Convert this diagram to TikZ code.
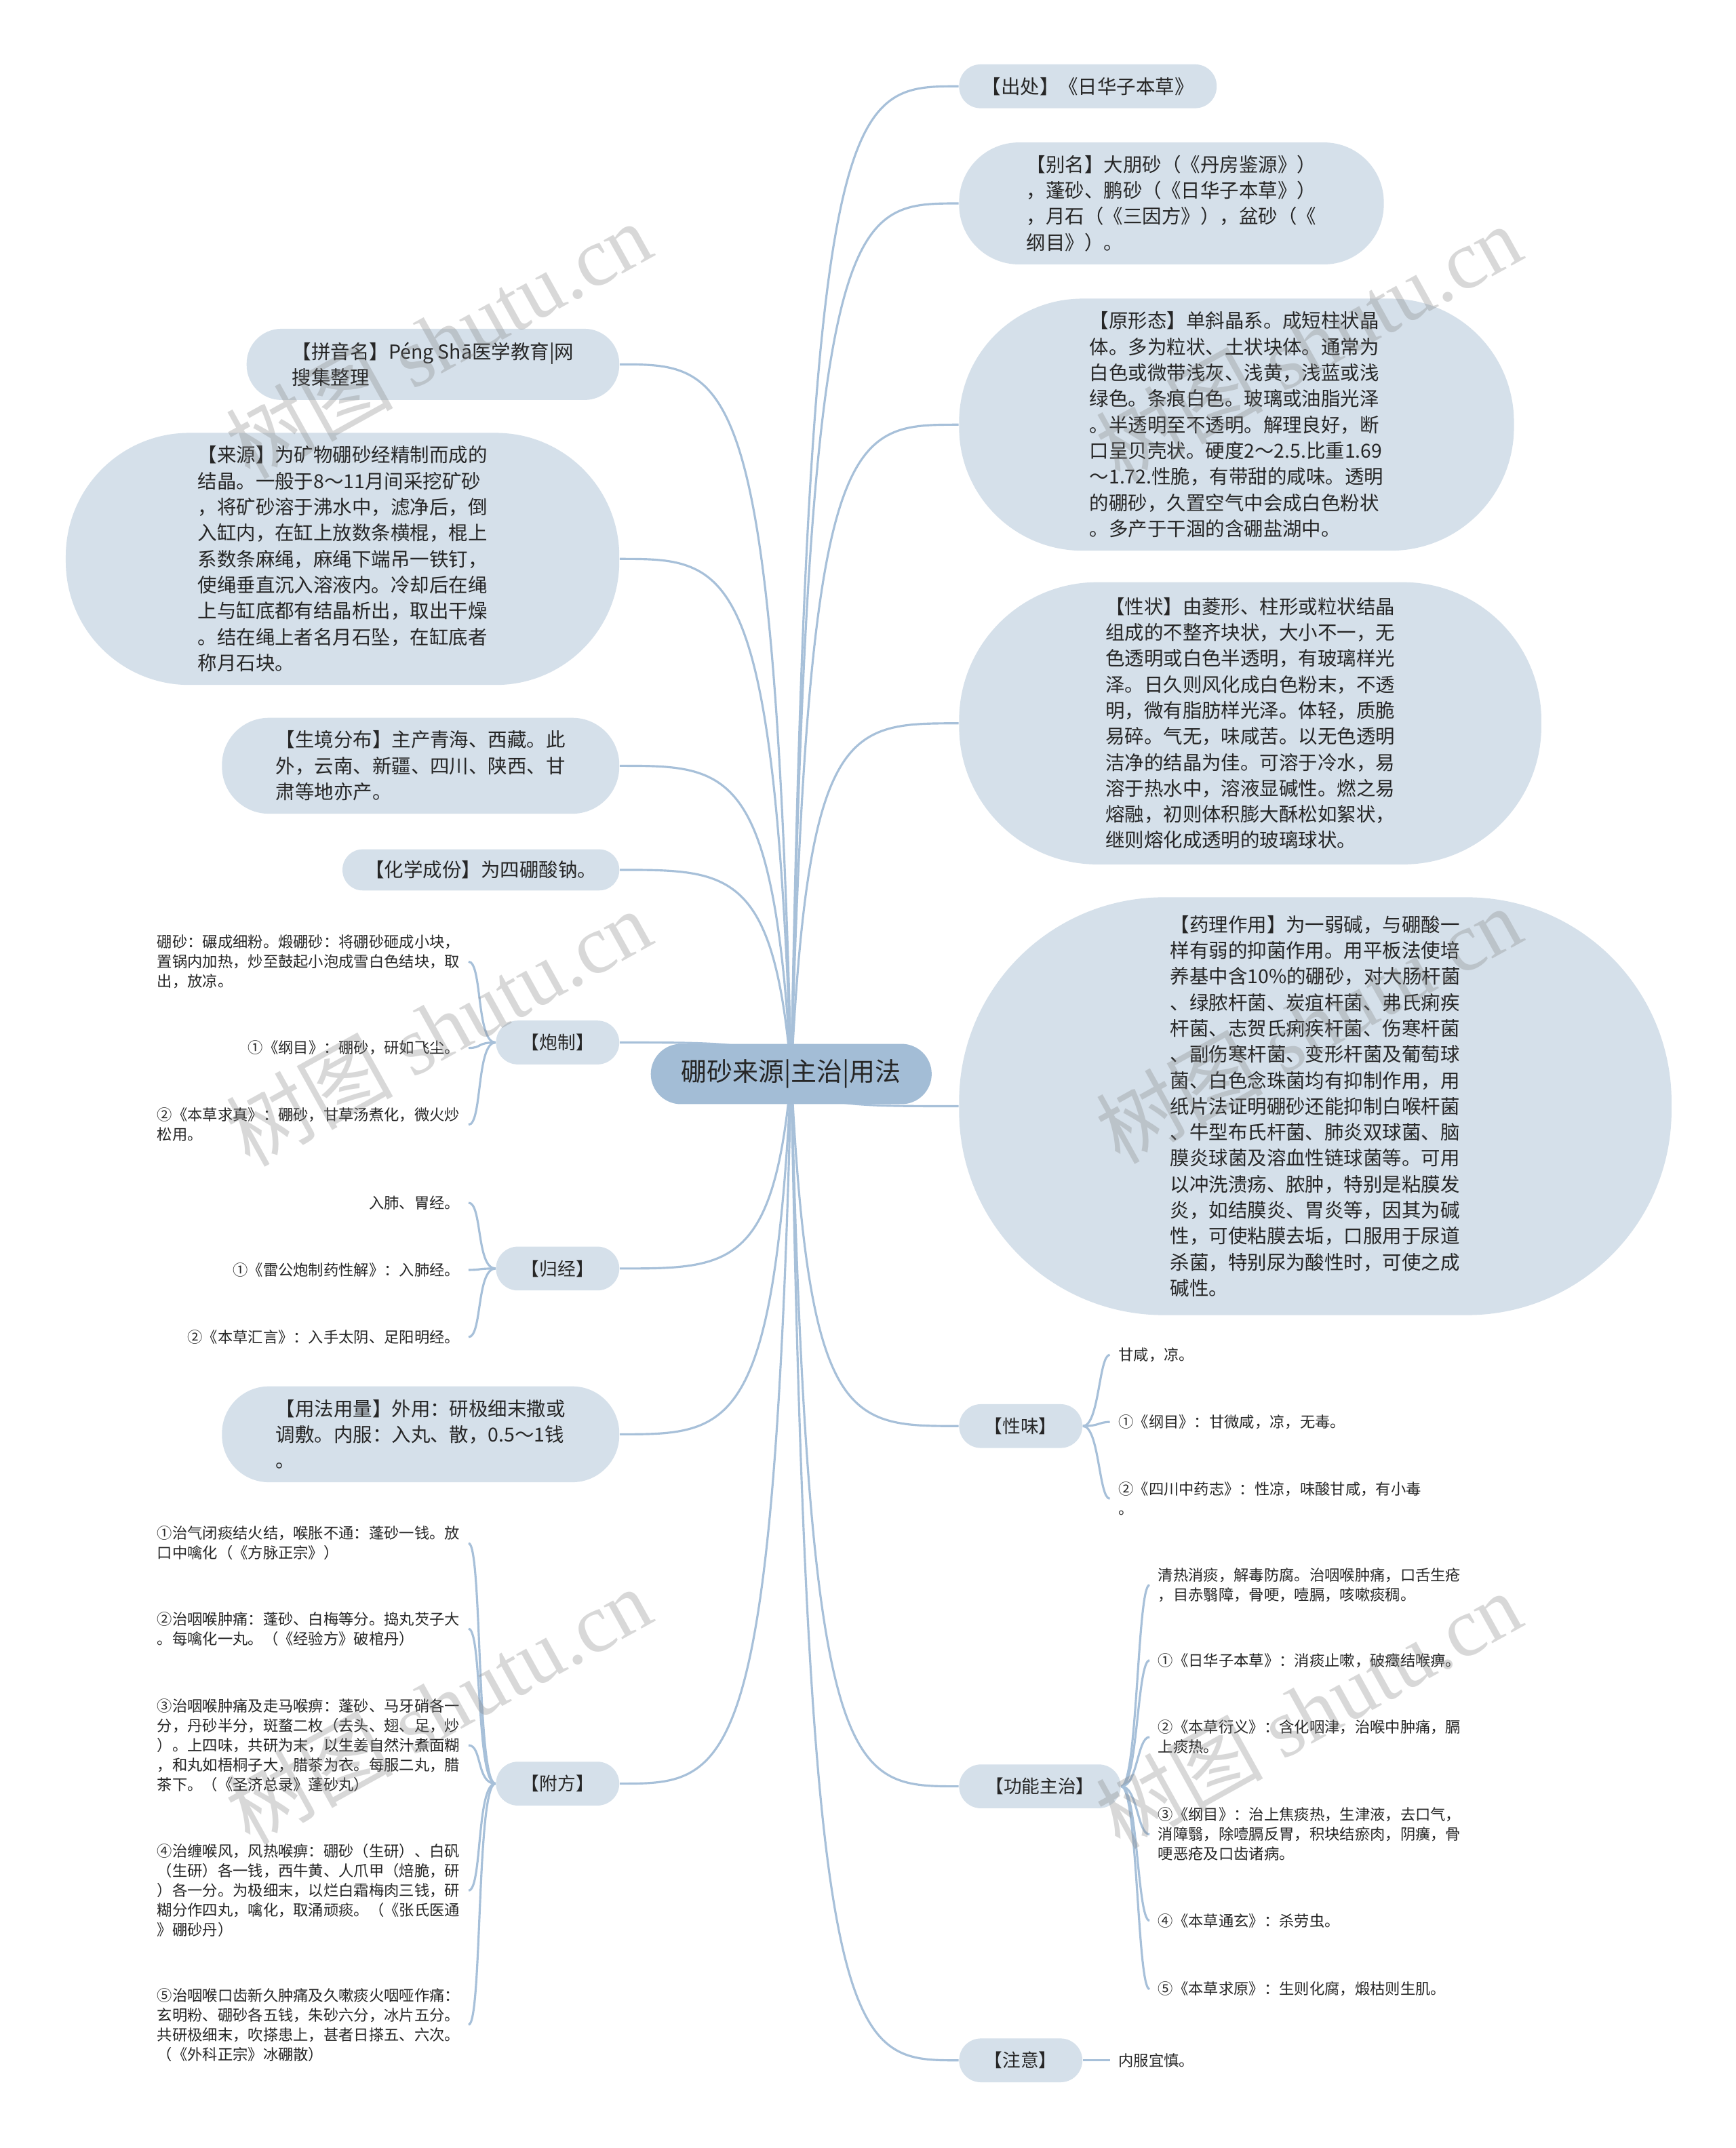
\documentclass[tikz,border=0pt]{standalone}
\usepackage{fontspec}
\setmainfont{Noto Sans CJK SC}
\newfontfamily\markfont{Liberation Serif}
\usepackage{tikz}
\usetikzlibrary{backgrounds}
\definecolor{bubfill}{HTML}{D5E0EA}
\definecolor{hubfill}{HTML}{A3BDD6}
\definecolor{linkblue}{HTML}{A7C0D9}
\definecolor{inkgray}{HTML}{262626}
\newcommand{\upx}{0.20205mm}
\newcommand{\bigtxt}{\fontsize{8.1pt}{10.9pt}\selectfont}
\newcommand{\smalltxt}{\fontsize{6.35pt}{8.25pt}\selectfont}
\newcommand{\tagtxt}{\fontsize{7.6pt}{9pt}\selectfont}
\newcommand{\hubtxt}{\fontsize{10.8pt}{13pt}\selectfont}
\tikzset{
  hub/.style={fill=hubfill, text=inkgray, font=\hubtxt, inner sep=0pt,
    minimum width=205*\upx, minimum height=44*\upx, rounded corners=22*\upx},
  bub/.style 2 args={fill=bubfill, text=inkgray, font=\bigtxt, align=left, inner sep=0pt,
    minimum width=#1*\upx, minimum height=#2*\upx, rounded corners=0.49*#2*\upx},
  tag/.style={fill=bubfill, text=inkgray, font=\tagtxt, inner sep=0pt,
    minimum width=#1*\upx, minimum height=32*\upx, rounded corners=16*\upx},
  tag/.default=90,
  leaf/.style={text=inkgray, font=\smalltxt, align=left, inner xsep=6*\upx, inner ysep=1pt},
  link/.style={draw=linkblue, line width=0.9pt},
  wmark/.style={text=gray, text opacity=0.3, rotate=29, font=\fontsize{35pt}{40pt}\selectfont}
}

\begin{document}
\begin{tikzpicture}[x=\upx, y=-\upx]
    \useasboundingbox (0,0) rectangle (1267,1568);

    \node[hub] (hub) at (577.5,784) {硼砂来源|主治|用法};
    \coordinate (hr) at (590,784);
    \coordinate (hl) at (565,784);

    % right side
    \node[bub={188}{32}] (src) at (794,63) {【出处】《日华子本草》};
    \node[bub={310}{89}] (alias) at (855,148.5) {【别名】大朋砂（《丹房鉴源》）\\，蓬砂、鹏砂（《日华子本草》）\\，月石（《三因方》），盆砂（《\\纲目》）。};
    \node[bub={405}{184}] (form) at (902.5,310) {【原形态】单斜晶系。成短柱状晶\\体。多为粒状、土状块体。通常为\\白色或微带浅灰、浅黄，浅蓝或浅\\绿色。条痕白色。玻璃或油脂光泽\\。半透明至不透明。解理良好，断\\口呈贝壳状。硬度2～2.5.比重1.69\\～1.72.性脆，有带甜的咸味。透明\\的硼砂，久置空气中会成白色粉状\\。多产于干涸的含硼盐湖中。};
    \node[bub={425}{206}] (trait) at (912.5,528) {【性状】由菱形、柱形或粒状结晶\\组成的不整齐块状，大小不一，无\\色透明或白色半透明，有玻璃样光\\泽。日久则风化成白色粉末，不透\\明，微有脂肪样光泽。体轻，质脆\\易碎。气无，味咸苦。以无色透明\\洁净的结晶为佳。可溶于冷水，易\\溶于热水中，溶液显碱性。燃之易\\熔融，初则体积膨大酥松如絮状，\\继则熔化成透明的玻璃球状。};
    \node[bub={520}{305}] (pharm) at (960,807.5) {【药理作用】为一弱碱，与硼酸一\\样有弱的抑菌作用。用平板法使培\\养基中含10\%的硼砂，对大肠杆菌\\、绿脓杆菌、炭疽杆菌、弗氏痢疾\\杆菌、志贺氏痢疾杆菌、伤寒杆菌\\、副伤寒杆菌、变形杆菌及葡萄球\\菌、白色念珠菌均有抑制作用，用\\纸片法证明硼砂还能抑制白喉杆菌\\、牛型布氏杆菌、肺炎双球菌、脑\\膜炎球菌及溶血性链球菌等。可用\\以冲洗溃疡、脓肿，特别是粘膜发\\炎，如结膜炎、胃炎等，因其为碱\\性，可使粘膜去垢，口服用于尿道\\杀菌，特别尿为酸性时，可使之成\\碱性。};
    \node[tag] (taste) at (745,1041) {【性味】};
    \node[tag=118] (func) at (759,1304) {【功能主治】};
    \node[tag] (note) at (745,1504) {【注意】};

    \node[leaf, anchor=west] (taste1) at (810,989) {甘咸，凉。};
    \node[leaf, anchor=west] (taste2) at (810,1038) {①《纲目》：甘微咸，凉，无毒。};
    \node[leaf, anchor=west] (taste3) at (810,1094) {②《四川中药志》：性凉，味酸甘咸，有小毒\\。};

    \node[leaf, anchor=west] (func1) at (839,1157) {清热消痰，解毒防腐。治咽喉肿痛，口舌生疮\\，目赤翳障，骨哽，噎膈，咳嗽痰稠。};
    \node[leaf, anchor=west] (func2) at (839,1212) {①《日华子本草》：消痰止嗽，破癥结喉痹。};
    \node[leaf, anchor=west] (func3) at (839,1268) {②《本草衍义》：含化咽津，治喉中肿痛，膈\\上痰热。};
    \node[leaf, anchor=west] (func4) at (839,1339) {③《纲目》：治上焦痰热，生津液，去口气，\\消障翳，除噎膈反胃，积块结瘀肉，阴癀，骨\\哽恶疮及口齿诸病。};
    \node[leaf, anchor=west] (func5) at (839,1402) {④《本草通玄》：杀劳虫。};
    \node[leaf, anchor=west] (func6) at (839,1452) {⑤《本草求原》：生则化腐，煅枯则生肌。};

    \node[leaf, anchor=west] (note1) at (810,1504) {内服宜慎。};

    % left side
    \node[bub={272}{52}] (pinyin) at (316,266) {【拼音名】Péng Shā医学教育|网\\搜集整理};
    \node[bub={404}{184}] (origin) at (250,408) {【来源】为矿物硼砂经精制而成的\\结晶。一般于8～11月间采挖矿砂\\，将矿砂溶于沸水中，滤净后，倒\\入缸内，在缸上放数条横棍，棍上\\系数条麻绳，麻绳下端吊一铁钉，\\使绳垂直沉入溶液内。冷却后在绳\\上与缸底都有结晶析出，取出干燥\\。结在绳上者名月石坠，在缸底者\\称月石块。};
    \node[bub={290}{70}] (habitat) at (307,559) {【生境分布】主产青海、西藏。此\\外，云南、新疆、四川、陕西、甘\\肃等地亦产。};
    \node[bub={202}{30}] (chem) at (351,635) {【化学成份】为四硼酸钠。};
    \node[tag] (prep) at (407,761) {【炮制】};
    \node[tag] (meridian) at (407,926) {【归经】};
    \node[bub={290}{70}] (usage) at (307,1047) {【用法用量】外用：研极细末撒或\\调敷。内服：入丸、散，0.5～1钱\\。};
    \node[tag] (recipe) at (407,1302) {【附方】};

    \node[leaf, anchor=east] (prep1) at (342,702) {硼砂：碾成细粉。煅硼砂：将硼砂砸成小块，\\置锅内加热，炒至鼓起小泡成雪白色结块，取\\出，放凉。};
    \node[leaf, anchor=east] (prep2) at (342,765) {①《纲目》：硼砂，研如飞尘。};
    \node[leaf, anchor=east] (prep3) at (342,821) {②《本草求真》：硼砂，甘草汤煮化，微火炒\\松用。};

    \node[leaf, anchor=east] (meridian1) at (342,878) {入肺、胃经。};
    \node[leaf, anchor=east] (meridian2) at (342,927) {①《雷公炮制药性解》：入肺经。};
    \node[leaf, anchor=east] (meridian3) at (342,976) {②《本草汇言》：入手太阴、足阳明经。};

    \node[leaf, anchor=east] (recipe1) at (342,1126.5) {①治气闭痰结火结，喉胀不通：蓬砂一钱。放\\口中噙化（《方脉正宗》）};
    \node[leaf, anchor=east] (recipe2) at (342,1189) {②治咽喉肿痛：蓬砂、白梅等分。捣丸芡子大\\。每噙化一丸。（《经验方》破棺丹）};
    \node[leaf, anchor=east] (recipe3) at (342,1274) {③治咽喉肿痛及走马喉痹：蓬砂、马牙硝各一\\分，丹砂半分，斑蝥二枚（去头、翅、足，炒\\）。上四味，共研为末，以生姜自然汁煮面糊\\，和丸如梧桐子大，腊茶为衣。每服二丸，腊\\茶下。（《圣济总录》蓬砂丸）};
    \node[leaf, anchor=east] (recipe4) at (342,1380) {④治缠喉风，风热喉痹：硼砂（生研）、白矾\\（生研）各一钱，西牛黄、人爪甲（焙脆，研\\）各一分。为极细末，以烂白霜梅肉三钱，研\\糊分作四丸，噙化，取涌顽痰。（《张氏医通\\》硼砂丹）};
    \node[leaf, anchor=east] (recipe5) at (342,1478) {⑤治咽喉口齿新久肿痛及久嗽痰火咽哑作痛：\\玄明粉、硼砂各五钱，朱砂六分，冰片五分。\\共研极细末，吹搽患上，甚者日搽五、六次。\\（《外科正宗》冰硼散）};

    \begin{scope}[on background layer]
      \fill[white] (0,0) rectangle (1267,1568);
      \foreach \n in {src,alias,form,trait,pharm,taste,func,note}
        \draw[link] (hub.center) .. controls (hr |- \n.west) and +(-80,0) .. (\n.west);
      \foreach \n in {pinyin,origin,habitat,chem,prep,meridian,usage,recipe}
        \draw[link] (hub.center) .. controls (hl |- \n.east) and +(80,0) .. (\n.east);
      \foreach \k in {1,2,3}
        \draw[link] (taste.east) .. controls +(12,0) and +(-8,0) .. (taste\k.west);
      \foreach \k in {1,...,6}
        \draw[link] (func.east) .. controls +(12,0) and +(-9,0) .. (func\k.west);
      \draw[link] (note.east) -- (note1.west);
      \foreach \k in {1,2,3}
        \draw[link] (prep.west) .. controls +(-14,0) and +(10,0) .. (prep\k.east);
      \foreach \k in {1,2,3}
        \draw[link] (meridian.west) .. controls +(-14,0) and +(10,0) .. (meridian\k.east);
      \foreach \k in {1,...,5}
        \draw[link] (recipe.west) .. controls +(-14,0) and +(10,0) .. (recipe\k.east);
    \end{scope}

    \node[wmark] (wm1) at (320,248) {树图 {\markfont shutu.cn}};
    \node[wmark] (wm2) at (320,750) {树图 {\markfont shutu.cn}};
    \node[wmark] (wm3) at (320,1245) {树图 {\markfont shutu.cn}};
    \node[wmark] (wm4) at (955,250) {树图 {\markfont shutu.cn}};
    \node[wmark] (wm5) at (955,748) {树图 {\markfont shutu.cn}};
    \node[wmark] (wm6) at (955,1248) {树图 {\markfont shutu.cn}};
\end{tikzpicture}
\end{document}
